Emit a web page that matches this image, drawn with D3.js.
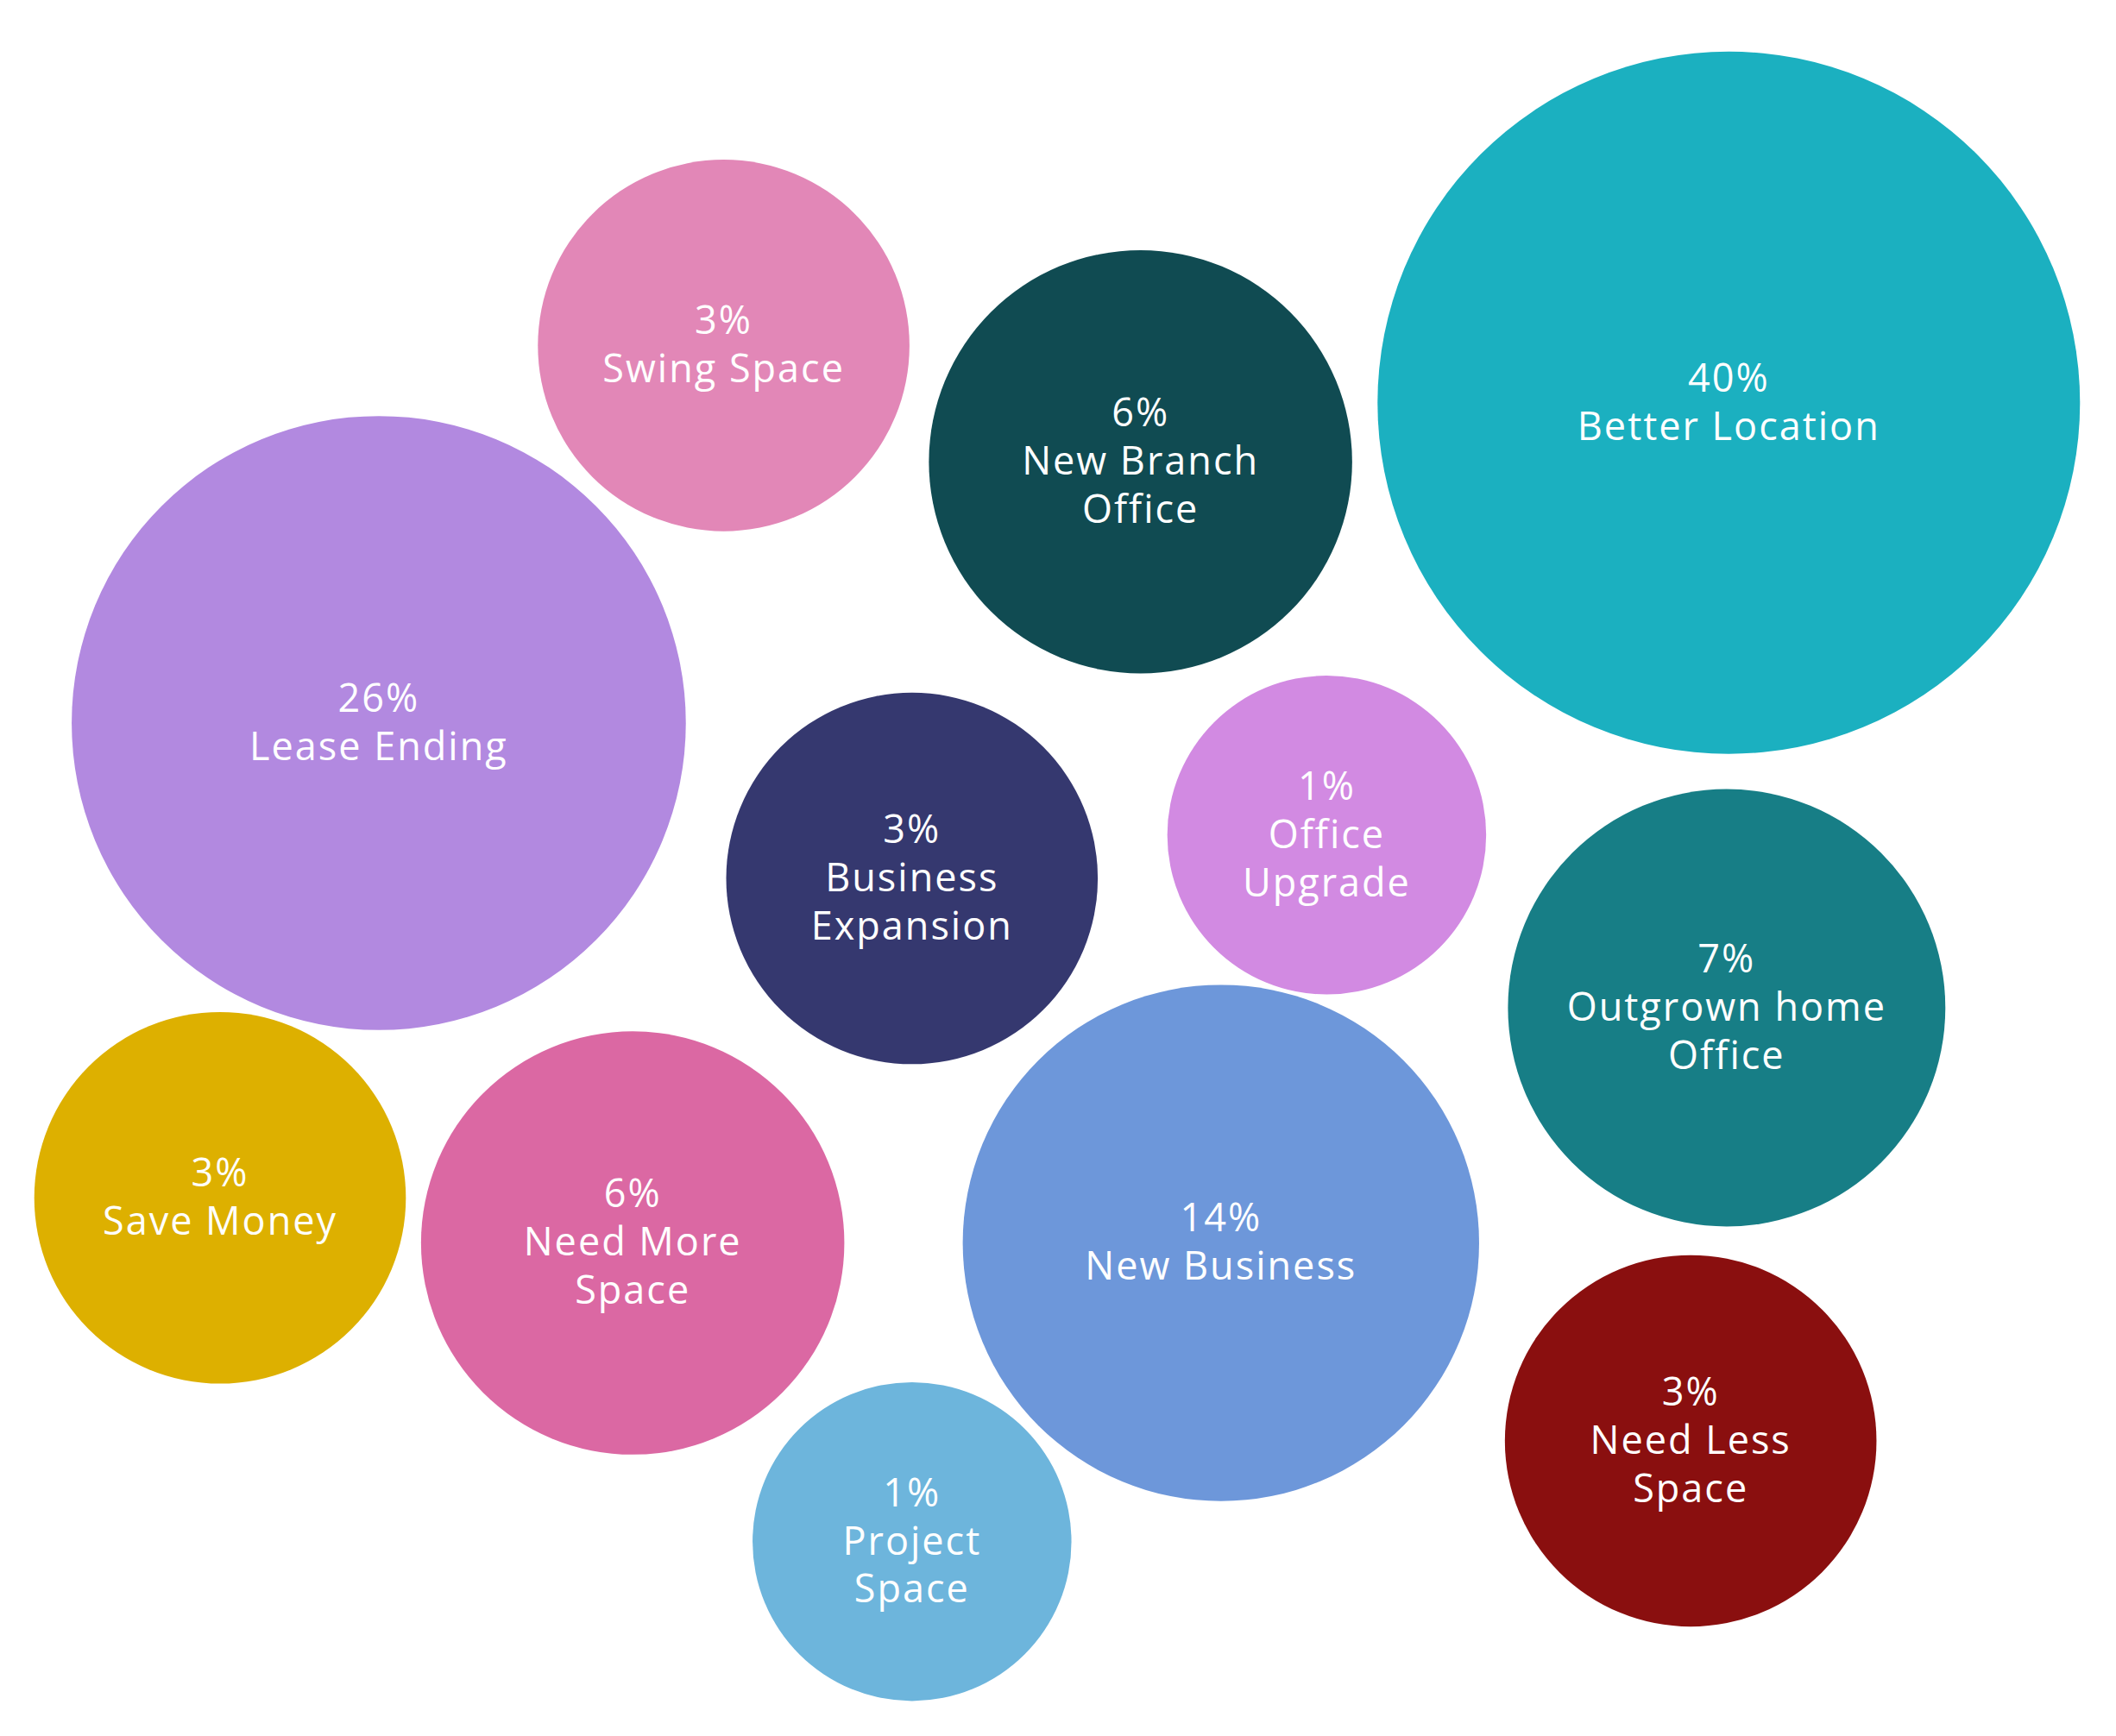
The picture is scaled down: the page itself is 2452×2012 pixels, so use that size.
<!DOCTYPE html>
<html>
<head>
<meta charset="utf-8">
<script src="https://cdn.jsdelivr.net/npm/d3@7"></script>
<style>
  html, body { margin: 0; padding: 0; background: #fff; }
  svg { display: block; }
</style>
</head>
<body>
<svg id="bubbles"></svg>
<script>
// data
var categories = ["Better Location", "Lease Ending", "Swing Space", "New Branch\nOffice",
  "Business\nExpansion", "Office\nUpgrade", "Outgrown home\nOffice", "Save Money",
  "Need More\nSpace", "New Business", "Need Less\nSpace", "Project\nSpace"];
var values = [40, 26, 3, 6, 3, 1, 7, 3, 6, 14, 3, 1];
var colors = ["#1bb0c0", "#b289e0", "#e287b7", "#104b52", "#35386f", "#d28ae2",
  "#177e86", "#ddb000", "#db68a3", "#6d97da", "#8a0f0f", "#6db5dc"];

// hand-arranged layout, in percent of the drawing area
var layoutX = [81.7, 17.9, 34.2, 53.9, 43.1, 62.7, 81.6, 10.4, 29.9, 57.7, 79.9, 43.1];
var layoutY = [23.2, 41.65, 19.9, 26.6, 50.6, 48.1, 58.05, 69.0, 71.6, 71.6, 83.0, 88.8];

var width = 2452, height = 2012;
var fontSize = 45, lineH = 56;

var svg = d3.select("#bubbles")
  .attr("width", width)
  .attr("height", height);

var x = d3.scaleLinear().domain([0, 100]).range([0, width]);
var y = d3.scaleLinear().domain([0, 100]).range([0, height]);
// bubble area grows with the share, with a floor so the small ones still hold their label
var r = d3.scaleSqrt().domain([0, d3.max(values)]).range([143, 407]);

var nodes = categories.map(function (c, i) {
  return {
    lines: [values[i] + "%"].concat(c.split("\n")),
    value: values[i],
    color: colors[i],
    cx: x(layoutX[i]),
    cy: y(layoutY[i])
  };
});

var g = svg.selectAll(".bubble")
  .data(nodes)
  .enter()
  .append("g")
  .attr("class", "bubble")
  .attr("transform", function (d) { return "translate(" + d.cx + "," + d.cy + ")"; });

g.append("circle")
  .attr("r", function (d) { return r(d.value); })
  .attr("fill", function (d) { return d.color; });

g.append("text")
  .attr("text-anchor", "middle")
  .attr("fill", "#fff")
  .style("font-family", "'Open Sans', sans-serif")
  .style("font-size", fontSize + "px")
  .style("letter-spacing", "2px")
  .selectAll("tspan")
  .data(function (d) { return d.lines.map(function (t, i) { return { t: t, i: i, n: d.lines.length }; }); })
  .enter()
  .append("tspan")
  .attr("x", 0)
  .attr("y", function (d) { return (d.i - (d.n - 1) / 2) * lineH + fontSize * 0.33; })
  .text(function (d) { return d.t; });
</script>
</body>
</html>
